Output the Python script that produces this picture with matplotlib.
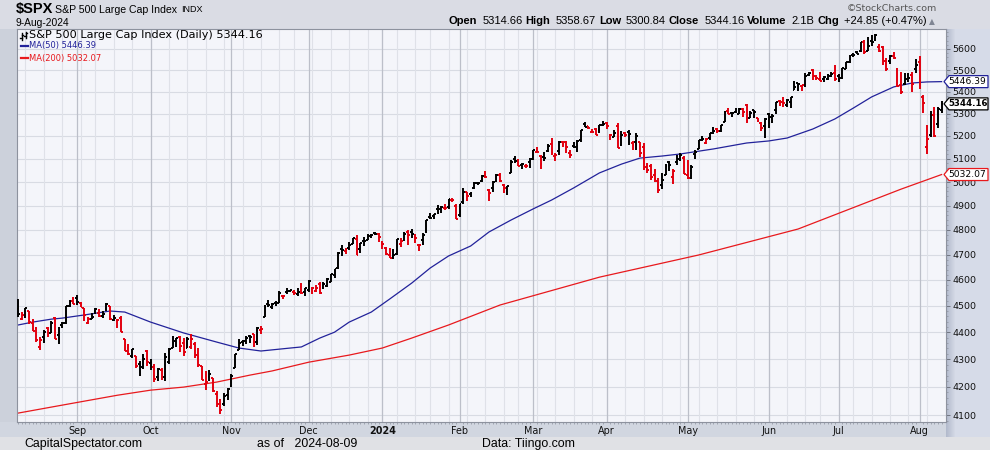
import numpy as np
import pandas as pd
import matplotlib
matplotlib.use("Agg")
import matplotlib.pyplot as plt
from matplotlib.collections import LineCollection
from matplotlib.patches import Polygon
from matplotlib.lines import Line2D
from matplotlib.transforms import Bbox, IdentityTransform
from matplotlib.ticker import FixedLocator, NullFormatter

# trading calendar 10-Aug-2023 .. 9-Aug-2024
holidays = ["2023-09-04", "2023-11-23", "2023-12-25", "2024-01-01", "2024-01-15",
            "2024-02-19", "2024-03-29", "2024-05-27", "2024-06-19", "2024-07-04"]
dates = pd.bdate_range("2023-08-10", "2024-08-09")
dates = dates[~dates.isin(pd.to_datetime(holidays))]

prev_close = 4467.7  # close before the first bar (sets its colour)

opens = [
    # Aug 2023
    4487.2, 4450.7, 4458.1, 4478.9, 4433.8, 4416.3, 4344.9, 4380.3, 4415.3, 4396.4, 4455.2, 4389.4, 4426.0, 4432.8, 4500.3, 4517.0,
    # Sep
    4530.6, 4510.1, 4490.4, 4434.6, 4451.3, 4481.0, 4473.3, 4462.6, 4487.8, 4498.0, 4445.1, 4445.4, 4452.8, 4374.4, 4341.7, 4310.6, 4312.9, 4282.6, 4269.7, 4328.2,
    # Oct
    4284.5, 4269.8, 4233.8, 4259.3, 4234.8, 4289.0, 4339.8, 4366.6, 4380.9, 4360.5, 4342.4, 4345.2, 4357.4, 4321.4, 4273.9, 4210.4, 4235.8, 4232.4, 4176.0, 4152.9, 4139.4, 4171.3,
    # Nov
    4201.3, 4268.3, 4334.2, 4364.3, 4366.2, 4384.4, 4391.4, 4364.2, 4406.7, 4459.0, 4505.3, 4497.1, 4509.6, 4511.7, 4538.8, 4553.0, 4555.8, 4554.9, 4545.6, 4571.8, 4554.9,
    # Dec
    4559.4, 4564.4, 4557.3, 4586.2, 4568.8, 4576.2, 4593.4, 4618.3, 4646.2, 4721.0, 4714.2, 4725.6, 4743.7, 4764.7, 4724.3, 4753.9, 4758.9, 4773.5, 4786.4, 4782.9,
    # Jan 2024
    4745.2, 4725.1, 4697.4, 4690.6, 4703.7, 4741.9, 4759.9, 4792.1, 4791.2, 4772.4, 4739.1, 4760.1, 4796.3, 4853.4, 4856.8, 4888.6, 4886.7, 4888.9, 4893.0, 4925.9, 4899.2,
    # Feb
    4861.1, 4916.1, 4957.2, 4950.2, 4973.1, 4995.2, 5004.2, 5026.8, 4967.9, 4976.4, 5003.1, 5031.1, 4989.3, 4963.0, 5038.8, 5100.9, 5093.0, 5074.6, 5067.2, 5085.4,
    # Mar
    5098.5, 5131.0, 5110.5, 5108.0, 5132.4, 5164.5, 5112.0, 5134.3, 5173.5, 5175.1, 5123.4, 5154.8, 5139.1, 5181.7, 5253.4, 5242.5, 5219.5, 5228.9, 5226.3, 5248.0,
    # Apr
    5258.0, 5204.3, 5194.4, 5244.1, 5159.0, 5211.4, 5217.0, 5167.9, 5173.0, 5171.5, 5149.7, 5064.6, 5069.0, 5031.5, 5005.4, 4987.3, 5028.9, 5084.7, 5019.9, 5084.9, 5114.1, 5103.8,
    # May
    5029.0, 5049.3, 5122.8, 5142.4, 5187.2, 5169.0, 5189.0, 5225.5, 5233.1, 5221.1, 5263.3, 5310.1, 5303.1, 5305.4, 5298.7, 5319.3, 5340.3, 5281.5, 5315.9, 5278.7, 5259.8, 5243.2,
    # Jun
    5297.2, 5278.2, 5314.5, 5357.8, 5343.8, 5341.2, 5353.0, 5409.1, 5441.9, 5424.1, 5431.1, 5476.2, 5500.0, 5466.8, 5459.6, 5460.7, 5460.7, 5473.6, 5488.5,
    # Jul
    5471.1, 5461.8, 5507.4, 5537.9, 5572.8, 5584.2, 5591.3, 5635.2, 5590.8, 5638.2, 5644.1, 5610.1, 5608.6, 5543.4, 5544.3, 5565.3, 5505.8, 5428.7, 5433.7, 5476.6, 5478.7, 5505.6,
    # Aug
    5537.8, 5376.6, 5151.1, 5206.4, 5293.1, 5252.6, 5314.66,
]
highs = [
    4527.4, 4476.2, 4490.3, 4478.9, 4450.0, 4421.2, 4381.8, 4407.6, 4418.6, 4443.2, 4458.3, 4418.5, 4439.6, 4500.1, 4521.7, 4532.3,
    4541.3, 4514.3, 4490.4, 4457.8, 4473.5, 4490.8, 4487.1, 4479.4, 4512.0, 4498.0, 4466.4, 4449.9, 4461.0, 4375.7, 4357.4, 4338.5, 4313.0, 4292.1, 4317.3, 4333.1,
    4300.6, 4281.2, 4268.5, 4267.1, 4324.1, 4341.7, 4385.5, 4378.6, 4385.9, 4377.1, 4383.3, 4393.6, 4364.2, 4339.5, 4276.6, 4255.8, 4259.4, 4232.4, 4183.6, 4156.7, 4177.5, 4195.5,
    4245.6, 4319.7, 4373.6, 4372.2, 4386.3, 4391.2, 4393.4, 4418.0, 4421.8, 4502.6, 4521.2, 4512.0, 4520.1, 4557.1, 4542.1, 4568.4, 4560.3, 4562.1, 4568.1, 4587.6, 4569.9,
    4599.4, 4572.4, 4578.6, 4590.7, 4590.9, 4609.2, 4623.7, 4643.9, 4709.7, 4738.6, 4725.5, 4749.5, 4768.7, 4778.0, 4748.7, 4772.9, 4784.7, 4785.4, 4793.3, 4788.4,
    4754.3, 4729.3, 4726.8, 4721.5, 4764.5, 4765.5, 4790.8, 4798.5, 4802.4, 4782.3, 4744.2, 4785.8, 4842.1, 4868.4, 4866.5, 4903.7, 4898.2, 4906.7, 4929.3, 4931.1, 4906.8,
    4907.0, 4975.3, 4957.2, 4957.8, 4999.9, 5000.4, 5030.1, 5048.4, 4971.3, 5002.5, 5032.7, 5038.7, 4993.7, 4983.2, 5094.4, 5111.1, 5097.7, 5080.7, 5077.4, 5105.0,
    5140.3, 5149.7, 5114.6, 5128.0, 5165.6, 5189.3, 5124.7, 5179.9, 5179.1, 5176.9, 5136.9, 5175.6, 5180.3, 5226.2, 5261.1, 5246.1, 5229.1, 5235.2, 5249.3, 5264.9,
    5264.0, 5208.3, 5228.8, 5256.6, 5222.2, 5219.6, 5224.8, 5178.4, 5211.8, 5175.0, 5168.4, 5079.8, 5078.0, 5056.7, 5019.0, 5038.8, 5076.1, 5089.5, 5057.8, 5114.6, 5123.5, 5110.8,
    5096.1, 5073.2, 5139.1, 5181.0, 5200.2, 5192.0, 5215.3, 5239.7, 5237.3, 5250.4, 5311.8, 5325.5, 5305.4, 5325.3, 5324.3, 5323.2, 5341.9, 5311.7, 5315.9, 5282.3, 5260.2, 5280.3,
    5302.1, 5298.8, 5354.2, 5362.4, 5375.1, 5365.8, 5376.0, 5447.3, 5441.9, 5432.4, 5488.5, 5490.4, 5505.5, 5478.3, 5490.8, 5472.9, 5483.1, 5490.8, 5523.6,
    5479.6, 5509.7, 5539.3, 5570.3, 5583.1, 5590.8, 5635.4, 5642.5, 5655.6, 5666.9, 5669.7, 5622.5, 5614.1, 5557.5, 5570.4, 5585.3, 5508.0, 5491.6, 5488.3, 5487.7, 5489.5, 5551.5,
    5566.2, 5383.9, 5250.9, 5312.3, 5330.6, 5328.0, 5358.67,
]
lows = [
    4457.9, 4444.0, 4453.4, 4432.2, 4403.6, 4364.8, 4335.3, 4360.3, 4382.8, 4396.4, 4375.6, 4356.3, 4415.0, 4431.7, 4493.6, 4507.4,
    4501.4, 4496.0, 4442.4, 4430.5, 4448.4, 4467.9, 4456.8, 4453.5, 4478.7, 4447.2, 4442.1, 4416.6, 4401.4, 4329.2, 4316.5, 4302.7, 4266.0, 4238.6, 4264.4, 4274.9,
    4260.2, 4216.5, 4220.5, 4225.9, 4219.6, 4283.8, 4339.6, 4345.3, 4325.4, 4312.0, 4342.4, 4337.5, 4303.8, 4269.7, 4223.0, 4189.2, 4219.4, 4181.4, 4127.9, 4103.8, 4132.9, 4153.1,
    4197.7, 4268.3, 4334.2, 4347.5, 4355.4, 4359.8, 4343.9, 4353.3, 4393.8, 4456.0, 4495.3, 4487.8, 4499.7, 4510.4, 4525.5, 4545.0, 4552.8, 4540.5, 4537.9, 4547.2, 4537.2,
    4554.7, 4546.7, 4551.7, 4546.5, 4565.2, 4574.1, 4593.4, 4608.1, 4643.2, 4694.3, 4704.7, 4720.5, 4743.3, 4697.8, 4708.4, 4736.8, 4758.5, 4768.9, 4781.0, 4752.0,
    4722.7, 4699.7, 4687.5, 4682.1, 4699.8, 4730.4, 4756.2, 4739.6, 4769.0, 4747.1, 4714.8, 4740.6, 4785.9, 4844.1, 4844.4, 4865.9, 4869.3, 4881.5, 4887.4, 4916.3, 4845.2,
    4853.5, 4908.0, 4918.1, 4938.3, 4969.1, 4987.1, 5000.3, 5016.3, 4920.3, 4956.0, 4999.4, 4999.5, 4955.0, 4946.0, 5038.8, 5081.5, 5068.9, 5057.3, 5058.4, 5061.9,
    5094.2, 5127.2, 5056.8, 5092.2, 5128.2, 5117.5, 5091.1, 5114.5, 5151.9, 5123.3, 5104.4, 5145.5, 5131.6, 5171.6, 5240.7, 5229.9, 5216.1, 5203.4, 5213.9, 5245.8,
    5229.2, 5184.1, 5194.4, 5146.1, 5157.2, 5197.4, 5160.8, 5138.7, 5138.8, 5107.9, 5052.5, 5039.8, 5007.3, 5001.9, 4953.6, 4969.4, 5028.0, 5047.0, 4990.6, 5073.1, 5088.7, 5035.3,
    5013.5, 5011.1, 5101.2, 5142.4, 5179.0, 5165.9, 5180.4, 5209.7, 5211.2, 5218.0, 5263.3, 5296.2, 5283.6, 5302.4, 5297.9, 5286.0, 5256.9, 5278.4, 5280.9, 5262.7, 5222.1, 5191.7,
    5234.3, 5257.6, 5297.6, 5335.4, 5331.3, 5331.5, 5327.3, 5409.1, 5402.5, 5403.8, 5420.4, 5471.3, 5455.6, 5452.0, 5447.6, 5446.6, 5451.9, 5467.5, 5451.1,
    5446.5, 5458.4, 5507.4, 5531.6, 5562.5, 5574.6, 5586.4, 5576.5, 5590.4, 5614.8, 5639.0, 5584.8, 5522.8, 5497.0, 5529.0, 5550.9, 5420.0, 5391.0, 5430.7, 5444.4, 5398.9, 5486.7,
    5410.4, 5302.0, 5119.3, 5193.6, 5195.5, 5233.9, 5300.84,
]
closes = [
    4468.8, 4464.1, 4489.7, 4437.9, 4404.3, 4370.4, 4369.7, 4399.8, 4387.6, 4436.0, 4376.3, 4405.7, 4433.3, 4497.6, 4514.9, 4507.7,
    4515.8, 4496.8, 4465.5, 4451.1, 4457.5, 4487.5, 4461.9, 4467.4, 4505.1, 4450.3, 4453.5, 4444.0, 4402.2, 4330.0, 4320.1, 4337.4, 4273.5, 4274.5, 4299.7, 4288.1,
    4288.4, 4229.5, 4263.8, 4258.2, 4308.5, 4335.7, 4358.2, 4377.0, 4349.6, 4327.8, 4373.6, 4373.2, 4314.6, 4278.0, 4224.2, 4217.0, 4247.7, 4186.8, 4137.2, 4117.4, 4166.8, 4193.8,
    4237.9, 4317.8, 4358.3, 4366.0, 4378.4, 4382.8, 4347.4, 4415.2, 4411.6, 4495.7, 4502.9, 4508.2, 4514.0, 4547.4, 4538.2, 4556.6, 4559.3, 4550.4, 4554.9, 4550.6, 4567.8,
    4594.6, 4569.8, 4567.2, 4549.3, 4585.6, 4604.4, 4622.4, 4643.7, 4707.1, 4719.6, 4719.2, 4740.6, 4768.4, 4698.4, 4746.8, 4754.6, 4774.8, 4781.6, 4783.4, 4769.8,
    4742.8, 4704.8, 4688.7, 4697.2, 4763.5, 4756.5, 4783.5, 4780.2, 4783.8, 4766.0, 4739.2, 4780.9, 4839.8, 4850.4, 4864.6, 4868.6, 4894.2, 4891.0, 4927.9, 4925.0, 4845.7,
    4906.2, 4958.6, 4942.8, 4954.2, 4995.1, 4997.9, 5026.6, 5021.8, 4953.2, 5000.6, 5029.7, 5005.6, 4975.5, 4981.8, 5087.0, 5088.8, 5069.5, 5078.2, 5069.8, 5096.3,
    5137.1, 5131.0, 5078.7, 5104.8, 5157.4, 5123.7, 5117.9, 5175.3, 5165.3, 5150.5, 5117.1, 5149.4, 5178.5, 5224.6, 5241.5, 5234.2, 5218.2, 5203.6, 5248.5, 5254.4,
    5243.8, 5205.8, 5211.5, 5147.2, 5204.3, 5202.4, 5209.9, 5160.6, 5199.1, 5123.4, 5061.8, 5051.4, 5022.2, 5011.1, 4967.2, 5010.6, 5070.6, 5071.6, 5048.4, 5100.0, 5116.2, 5035.7,
    5018.4, 5064.2, 5127.8, 5180.7, 5187.7, 5187.6, 5214.1, 5222.7, 5221.4, 5246.7, 5308.2, 5297.1, 5303.3, 5308.1, 5321.4, 5307.0, 5267.8, 5304.7, 5306.0, 5267.0, 5235.5, 5277.5,
    5283.4, 5291.3, 5354.0, 5353.0, 5347.0, 5360.8, 5375.3, 5421.0, 5433.7, 5431.6, 5473.2, 5487.0, 5473.2, 5464.6, 5447.9, 5469.3, 5477.9, 5482.9, 5460.5,
    5475.1, 5509.0, 5537.0, 5567.2, 5572.9, 5577.0, 5633.9, 5584.5, 5615.4, 5631.2, 5667.2, 5588.3, 5544.6, 5505.0, 5564.4, 5555.7, 5427.1, 5399.2, 5459.1, 5463.5, 5436.4, 5522.3,
    5446.7, 5346.6, 5186.3, 5240.0, 5199.5, 5319.3, 5344.16,
]

# moving averages (bar index, value)
ma50_idx = [0, 4, 9, 12, 18, 25, 29, 36, 45, 54, 60, 66, 74, 77, 82, 86, 90, 96, 101, 107, 112, 117,
            123, 128, 134, 140, 145, 151, 158, 164, 169, 175, 180, 189, 198, 204, 209, 216, 222, 227,
            232, 238, 243, 247, 251]
ma50_val = [4427, 4438, 4449, 4453, 4465, 4480, 4476, 4438, 4397, 4363, 4341, 4330, 4341, 4345, 4378,
            4400, 4438, 4476, 4526, 4588, 4647, 4695, 4735, 4792, 4841, 4887, 4924, 4975, 5039, 5077,
            5103, 5112, 5121, 5143, 5169, 5178, 5191, 5231, 5276, 5325, 5376, 5422, 5440, 5445, 5446.39]
ma200_idx = [0, 9, 18, 27, 36, 45, 54, 63, 69, 79, 90, 99, 107, 117, 131, 158, 185, 212, 240, 251]
ma200_val = [4107, 4128, 4149, 4170, 4188, 4199, 4217, 4242, 4257, 4289, 4315, 4341, 4378, 4427,
             4503, 4611, 4699, 4804, 4970, 5032.07]

yticks = [4100, 4200, 4300, 4400, 4500, 4600, 4700, 4800, 4900, 5000, 5100, 5200, 5300, 5400, 5500, 5600]

W, H = 990, 450
def P(x, y):
    return x / W, 1 - y / H

fig = plt.figure(figsize=(9.9, 4.5), dpi=100)

# background with the shaded frame
img = np.ones((H, W, 3)) * np.array([0.855, 0.865, 0.895])
g = np.linspace(0, 1, 10)[:, None]
grad = np.array([0.70, 0.73, 0.80]) * (1 - g) + np.array([0.84, 0.86, 0.91]) * g
img[29:437, 946:956] = np.broadcast_to(grad[None, :, :], (408, 10, 3))
img[29:437, 956:] = [0.84, 0.86, 0.91]
img[422:437, :946] = [0.82, 0.84, 0.88]
img[29:422, :17] = [0.80, 0.82, 0.86]
img[437:, :] = [0.88, 0.885, 0.90]
bg = fig.add_axes([0, 0, 1, 1], zorder=-10)
bg.imshow(img, aspect="auto")
bg.set_xlim(-0.5, W - 0.5)
bg.set_ylim(H - 0.5, -0.5)
bg.axis("off")

ax = fig.add_axes([17 / W, 1 - 422 / H, (946 - 17) / W, (422 - 29) / H])
ax.set_facecolor("#f4f5fa")
ax.set_yscale("log")
ax.set_ylim(4076, 5696)
ax.set_xlim(-0.3, 252.2)

x = np.arange(len(closes))
month_start = [i for i in range(1, len(dates)) if dates[i].month != dates[i - 1].month]
week_start = [i for i in range(1, len(dates)) if dates[i].weekday() < dates[i - 1].weekday()]

for v in yticks:
    ax.axhline(v, color="#d8dbe3", lw=0.8, zorder=0)
for i in week_start:
    ax.axvline(i, color="#dfe1e8", lw=0.8, zorder=0)
for i in month_start:
    ax.axvline(i, color="#bcbfc9", lw=0.9, zorder=0)

ax.plot(ma200_idx, ma200_val, color="#e8191d", lw=0.9, zorder=2)
ax.plot(ma50_idx, ma50_val, color="#22229a", lw=0.9, zorder=2)

prev = np.r_[prev_close, closes[:-1]]
segs, cols = [], []
for i in x:
    c = "#000000" if closes[i] >= prev[i] else "#e2000f"
    segs += [[(i, lows[i]), (i, highs[i])],
             [(i - 0.5, opens[i]), (i, opens[i])],
             [(i, closes[i]), (i + 0.5, closes[i])]]
    cols += [c, c, c]
ax.add_collection(LineCollection(segs, colors=cols, linewidths=1.4, capstyle="butt", zorder=3))

# axes and ticks
for s in ax.spines.values():
    s.set_color("#8d929e")
    s.set_linewidth(0.8)
ax.yaxis.tick_right()
ax.yaxis.set_major_locator(FixedLocator(yticks))
ax.yaxis.set_minor_locator(FixedLocator(np.arange(4080, 5700, 20)))
ax.yaxis.set_minor_formatter(NullFormatter())
ax.set_yticklabels([str(v) for v in yticks], fontsize=6.8, color="#111111")
ax.tick_params(axis="y", which="major", length=3, width=0.6, color="#666a75", pad=1.5)
ax.tick_params(axis="y", which="minor", length=1.5, width=0.5, color="#8d929e")

mon_labels = [("2024" if dates[i].month == 1 else dates[i].strftime("%b")) for i in month_start]
ax.set_xticks(month_start)
ax.set_xticklabels(mon_labels, fontsize=6.9, color="#111111")
for t in ax.get_xticklabels():
    if t.get_text() == "2024":
        t.set_fontweight("bold")
ax.xaxis.set_minor_locator(FixedLocator(x))
ax.tick_params(axis="x", which="major", length=0, pad=3)
ax.tick_params(axis="x", which="minor", length=1.5, width=0.5, color="#8d929e")

# header
fig.text(*P(16, 9.5), "$SPX", fontsize=10.5, fontweight="bold", family="Liberation Sans", va="center")
fig.text(*P(55, 10), "S&P 500 Large Cap Index", fontsize=7.6, family="Liberation Sans", va="center")
fig.text(*P(181, 10), "INDX", fontsize=6.5, family="Liberation Sans", va="center")
fig.text(*P(16, 22.5), "9-Aug-2024", fontsize=7.4, family="Liberation Sans", va="center")
fig.text(*P(937, 8.5), "\u00a9StockCharts.com", fontsize=6.8, color="#555555", ha="right", va="center")

pieces = [("Open", True), ("5314.66", False), ("High", True), ("5358.67", False), ("Low", True),
          ("5300.84", False), ("Close", True), ("5344.16", False), ("Volume", True), ("2.1B", False),
          ("Chg", True), ("+24.85 (+0.47%)", False)]
last = fig.text(*P(935, 26), "\u25b2", fontsize=5.5, color="#7f8593", ha="right", va="bottom")
gap = 1.5
for txt, bold in reversed(pieces):
    last = ax.annotate(txt, xy=(0, 0), xycoords=last, xytext=(-gap, 0), textcoords="offset points",
                       fontsize=8.0, family="Liberation Sans", fontweight="bold" if bold else "normal",
                       ha="right", va="bottom")
    gap = 2.2 if bold else 3.6

# legend inside the plot
fig.text(*P(29, 35.5), "S&P 500 Large Cap Index (Daily) 5344.16", fontsize=8.15, va="center")
for dx, y0, y1, yo, yc in [(21.5, 33, 39.5, 37.5, 34.5), (25.5, 31.5, 38, 36, 33)]:
    fig.add_artist(Line2D([dx / W, dx / W], [1 - y0 / H, 1 - y1 / H], color="k", lw=1.0))
    fig.add_artist(Line2D([(dx - 1.5) / W, dx / W], [1 - yo / H] * 2, color="k", lw=1.0))
    fig.add_artist(Line2D([dx / W, (dx + 1.5) / W], [1 - yc / H] * 2, color="k", lw=1.0))
fig.add_artist(Line2D([21 / W, 28 / W], [1 - 45.7 / H] * 2, color="#22229a", lw=1.6))
fig.text(*P(29, 45.7), "MA(50) 5446.39", fontsize=6.0, color="#22229a", va="center")
fig.add_artist(Line2D([21 / W, 28 / W], [1 - 58 / H] * 2, color="#e8191d", lw=1.6))
fig.text(*P(29, 58), "MA(200) 5032.07", fontsize=6.0, color="#e8191d", va="center")

# price flags on the right axis
for val, col, bold in [(ma50_val[-1], "#22229a", False), (closes[-1], "#000000", True),
                       (ma200_val[-1], "#e8191d", False)]:
    yv = ax.transData.transform((0, val))[1]
    pts = [(944, yv), (949, yv + 6), (988, yv + 6), (988, yv - 6), (949, yv - 6)]
    fig.add_artist(Polygon(pts, closed=True, fc="white", ec=col, lw=0.9, transform=IdentityTransform()))
    fig.text(948.5 / W, yv / H, f"{val:.2f}", fontsize=6.2 if bold else 6.6, color="#000000",
             fontweight="bold" if bold else "normal", va="center", ha="left")

# footer
clip = Bbox([[0, 0], [W, H - 437]])
for xx, s in [(24, "CapitalSpectator.com"), (257, "as of   2024-08-09"), (482, "Data: Tiingo.com")]:
    t = fig.text(*P(xx, 444), s, fontsize=8.9, family="Liberation Sans", va="center")
    t.set_clip_on(True)
    t.set_clip_box(clip)

fig.savefig("out.png", dpi=100)
